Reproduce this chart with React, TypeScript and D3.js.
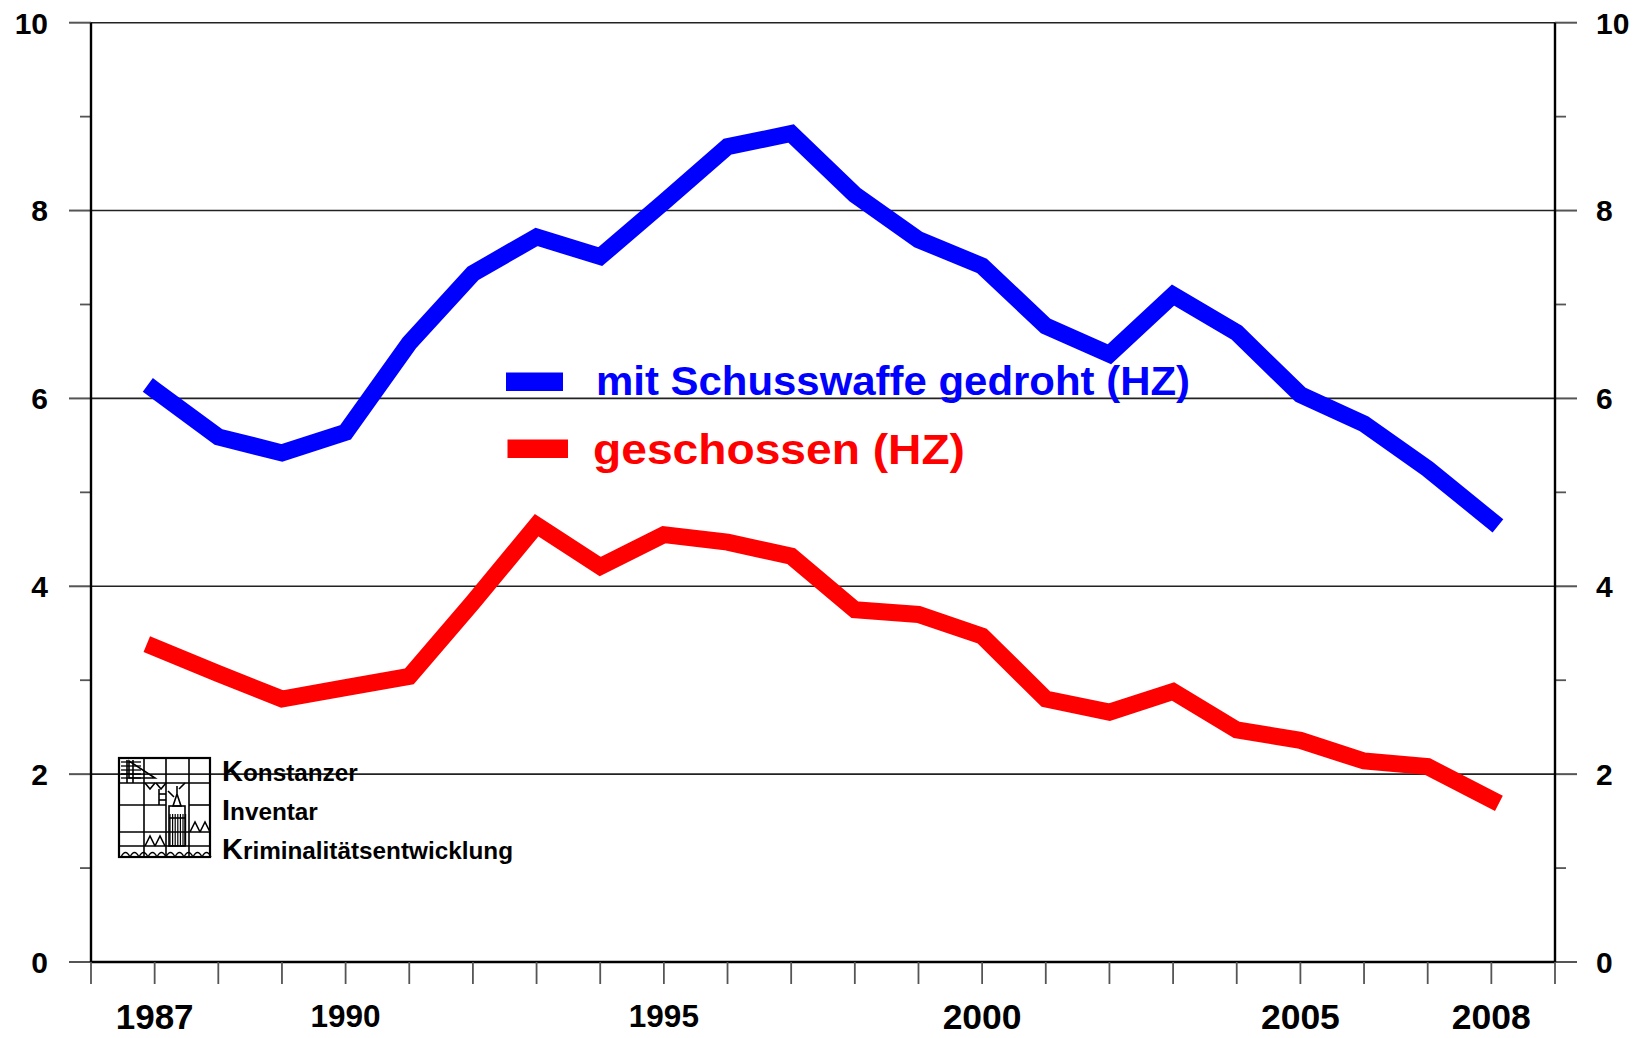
import React from 'react';
import * as d3 from 'd3';

// ---- data ----
const years = [1987, 1988, 1989, 1990, 1991, 1992, 1993, 1994, 1995, 1996, 1997, 1998, 1999, 2000, 2001, 2002, 2003, 2004, 2005, 2006, 2007, 2008];
const threatened = [6.09, 5.59, 5.42, 5.64, 6.59, 7.33, 7.72, 7.51, 8.09, 8.68, 8.82, 8.17, 7.69, 7.41, 6.77, 6.47, 7.10, 6.70, 6.04, 5.73, 5.25, 4.70];
const fired = [3.35, 3.07, 2.80, 2.92, 3.04, 3.83, 4.65, 4.21, 4.55, 4.47, 4.32, 3.75, 3.70, 3.47, 2.80, 2.66, 2.88, 2.47, 2.36, 2.14, 2.08, 1.73];
const yMajorTicks = [0, 2, 4, 6, 8, 10];
const yMinorTicks = [1, 3, 5, 7, 9];
const xTickYears = [1986, 1987, 1988, 1989, 1990, 1991, 1992, 1993, 1994, 1995, 1996, 1997, 1998, 1999, 2000, 2001, 2002, 2003, 2004, 2005, 2006, 2007, 2008, 2009];
const xLabelYears = [1987, 1990, 1995, 2000, 2005, 2008];
const seriesNames = ['mit Schusswaffe gedroht (HZ)', 'geschossen (HZ)'];
const logoWords = ['Konstanzer', 'Inventar', 'Kriminalitätsentwicklung'];

const W = 1650;
const H = 1038;
const FONT = '"Liberation Sans", Arial, Helvetica, sans-serif';

const x = d3.scaleLinear().domain([1986, 2009]).range([91, 1555]);
const y = d3.scaleLinear().domain([0, 10]).range([962, 22.7]);

const lineGen = d3
  .line<number>()
  .x((_, i) => x(years[i]))
  .y((d) => y(d));

const labelSize: Record<number, number> = { 1987: 35, 1990: 31.5, 1995: 31.5, 2000: 35.5, 2005: 35.5, 2008: 35.5 };

function Logo() {
  const bars = d3.range(51, 67, 2.6);
  const hatch = [4, 8, 12, 16, 20];
  const arches = d3.range(2, 90, 9);
  return (
    <g transform="translate(119,758)" fill="none" stroke="#000" strokeWidth={1.6}>
      <rect x={0} y={0} width={91} height={99} strokeWidth={2.2} />
      <line x1={25} y1={0} x2={25} y2={99} />
      <line x1={47} y1={0} x2={47} y2={99} />
      <line x1={70} y1={0} x2={70} y2={99} />
      <line x1={0} y1={25} x2={91} y2={25} />
      <line x1={0} y1={47} x2={47} y2={47} />
      <line x1={70} y1={47} x2={91} y2={47} />
      <line x1={0} y1={74} x2={91} y2={74} />
      <line x1={0} y1={88} x2={91} y2={88} />
      {hatch.map((h) => (
        <line key={h} x1={2} y1={h} x2={22} y2={h} strokeWidth={1.3} />
      ))}
      <line x1={8} y1={2} x2={8} y2={25} />
      <line x1={14} y1={2} x2={14} y2={25} />
      <path d="M10,3 L36,20 L10,20 Z" />
      <path d="M26,25 L31,31 L36,25 M37,25 L42,31 L47,25 M49,33 L55,39 M60,31 L66,25" />
      <line x1={40} y1={31} x2={40} y2={47} />
      <line x1={40} y1={36} x2={47} y2={36} />
      <line x1={40} y1={42} x2={47} y2={42} />
      <path d="M58,28 L58,36 M54,48 L58,36 L62,48 Z" />
      <rect x={50} y={48} width={16} height={40} />
      {bars.map((b) => (
        <line key={b} x1={b} y1={56} x2={b} y2={88} strokeWidth={1.2} />
      ))}
      <line x1={50} y1={60} x2={66} y2={60} />
      <path d="M26,88 L31,78 L36,88 M36,88 L41,78 L46,88" />
      <path d="M71,74 L76,64 L81,74 M81,74 L86,64 L91,74" />
      {arches.map((a) => (
        <path key={a} d={`M${a},99 Q${a + 4.5},90 ${a + 9},99`} strokeWidth={1.3} />
      ))}
    </g>
  );
}

export default function App() {
  const left = 91;
  const right = 1555;
  const bottom = y(0);
  return (
    <svg
      width={W}
      height={H}
      viewBox={`0 0 ${W} ${H}`}
      style={{ position: 'absolute', left: 0, top: 0, background: '#fff', display: 'block' }}
      fontFamily={FONT}
      fontWeight="bold"
    >
      <rect x={0} y={0} width={W} height={H} fill="#fff" />
      {/* grid lines and outer major ticks */}
      {yMajorTicks.map((t) => (
        <g key={`g${t}`}>
          <line x1={69} x2={left} y1={y(t)} y2={y(t)} stroke="#555" strokeWidth={2} />
          <line x1={right} x2={1577} y1={y(t)} y2={y(t)} stroke="#555" strokeWidth={2} />
          <line x1={left} x2={right} y1={y(t)} y2={y(t)} stroke={t === 0 ? '#000' : '#222'} strokeWidth={t === 0 ? 2.4 : 1.6} />
        </g>
      ))}
      {yMinorTicks.map((t) => (
        <g key={`m${t}`}>
          <line x1={80} x2={left} y1={y(t)} y2={y(t)} stroke="#555" strokeWidth={1.8} />
          <line x1={right} x2={1566} y1={y(t)} y2={y(t)} stroke="#555" strokeWidth={1.8} />
        </g>
      ))}
      {xTickYears.map((yr) => (
        <line key={`x${yr}`} x1={x(yr)} x2={x(yr)} y1={bottom} y2={984} stroke="#555" strokeWidth={1.8} />
      ))}
      {/* axis verticals */}
      <line x1={left} x2={left} y1={y(10)} y2={bottom} stroke="#000" strokeWidth={2.4} />
      <line x1={right} x2={right} y1={y(10)} y2={bottom} stroke="#000" strokeWidth={2.4} />

      {/* y labels */}
      {yMajorTicks.map((t) => (
        <g key={`yl${t}`} fontSize={30}>
          <text x={48} y={y(t) + 10.8} textAnchor="end" fill="#000">
            {t}
          </text>
          <text x={1596} y={y(t) + 10.8} textAnchor="start" fill="#000">
            {t}
          </text>
        </g>
      ))}
      {/* x labels */}
      {xLabelYears.map((yr) => (
        <text
          key={`xl${yr}`}
          x={x(yr)}
          y={1004 + 0.716 * labelSize[yr]}
          textAnchor="middle"
          fontSize={labelSize[yr]}
          fill="#000"
        >
          {yr}
        </text>
      ))}

      {/* logo */}
      <Logo />
      {logoWords.map((w, i) => (
        <text key={w} x={222} y={781 + i * 39} fill="#000">
          <tspan fontSize={29}>{w[0]}</tspan>
          <tspan fontSize={24.3}>{w.slice(1)}</tspan>
        </text>
      ))}

      {/* legend */}
      <rect x={506} y={372.5} width={57} height={18.5} fill="#0000ff" />
      <rect x={507.5} y={439.5} width={60.5} height={18.5} fill="#ff0000" />
      <text x={596} y={395} fontSize={40} fill="#0000ff" textLength={594} lengthAdjust="spacingAndGlyphs">
        {seriesNames[0]}
      </text>
      <text x={593} y={464} fontSize={43} fill="#ff0000" textLength={372} lengthAdjust="spacingAndGlyphs">
        {seriesNames[1]}
      </text>

      {/* series */}
      <path
        d={lineGen(threatened) || ''}
        fill="none"
        stroke="#0000ff"
        strokeWidth={17}
        strokeLinejoin="miter"
        strokeLinecap="square"
      />
      <path
        d={lineGen(fired) || ''}
        fill="none"
        stroke="#ff0000"
        strokeWidth={17}
        strokeLinejoin="miter"
        strokeLinecap="square"
      />
    </svg>
  );
}
